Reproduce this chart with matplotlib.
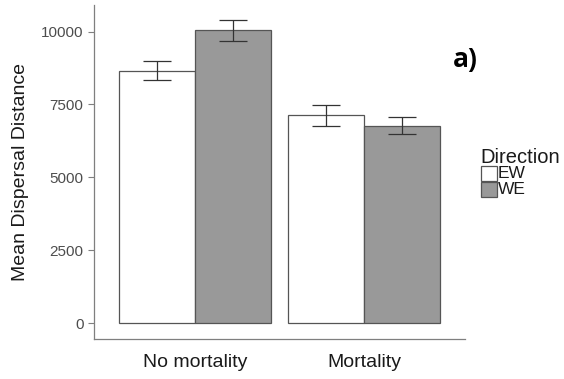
import numpy as np
import matplotlib
matplotlib.use("Agg")
import matplotlib.pyplot as plt
from matplotlib.patches import Rectangle

plt.rcParams['font.family'] = ['Liberation Sans', 'DejaVu Sans']

categories = ["No mortality", "Mortality"]
directions = ["EW", "WE"]
means = {"EW": [8660, 7125], "WE": [10040, 6760]}
errors = {"EW": [335, 365], "WE": [350, 290]}
fills = {"EW": "#FFFFFF", "WE": "#999999"}

fig = plt.figure(figsize=(5.64, 3.79), dpi=100)
ax = fig.add_axes([0.1667, 0.1055, 0.658, 0.8813])

x = np.arange(1, len(categories) + 1)
w = 0.45
for i, d in enumerate(directions):
    pos = x + (i - 0.5) * w
    ax.bar(pos, means[d], width=w, color=fills[d], edgecolor="#555555", linewidth=0.9)
    ax.errorbar(pos, means[d], yerr=errors[d], fmt="none", ecolor="#333333",
                elinewidth=0.9, capsize=10, capthick=0.9)

ax.set_xlim(0.4, 2.6)
ax.set_ylim(-549, 10909)
ax.set_yticks([0, 2500, 5000, 7500, 10000])
ax.set_xticks(x)
ax.set_xticklabels(categories, fontsize=14, color="#1a1a1a")
ax.tick_params(axis="y", labelsize=11, labelcolor="#4D4D4D", color="#7f7f7f", length=4, width=0.8)
ax.tick_params(axis="x", length=0, pad=11)
for s in ["top", "right"]:
    ax.spines[s].set_visible(False)
for s in ["left", "bottom"]:
    ax.spines[s].set_color("#7f7f7f")
    ax.spines[s].set_linewidth(0.9)
ax.set_ylabel("Mean Dispersal Distance", fontsize=14, color="#1a1a1a", labelpad=9)

# legend drawn by hand (ggplot style)
fig.text(480 / 564, 1 - 163 / 379, "Direction", fontsize=14.5, color="#1a1a1a", va="baseline")
for j, d in enumerate(directions):
    top = 166.5 + j * 15.5
    fig.patches.append(Rectangle((481 / 564, 1 - (top + 15) / 379), 15.5 / 564, 15 / 379,
                                 transform=fig.transFigure, facecolor=fills[d],
                                 edgecolor="#555555", linewidth=0.9))
    fig.text(498 / 564, 1 - (top + 7.5) / 379, d, fontsize=12.5, color="#1a1a1a", va="center")

fig.text(453 / 564, 1 - 67 / 379, "a)", fontsize=19, fontweight="bold", color="black",
         family=["Open Sans", "DejaVu Sans"])

fig.savefig("out.png", dpi=100)
